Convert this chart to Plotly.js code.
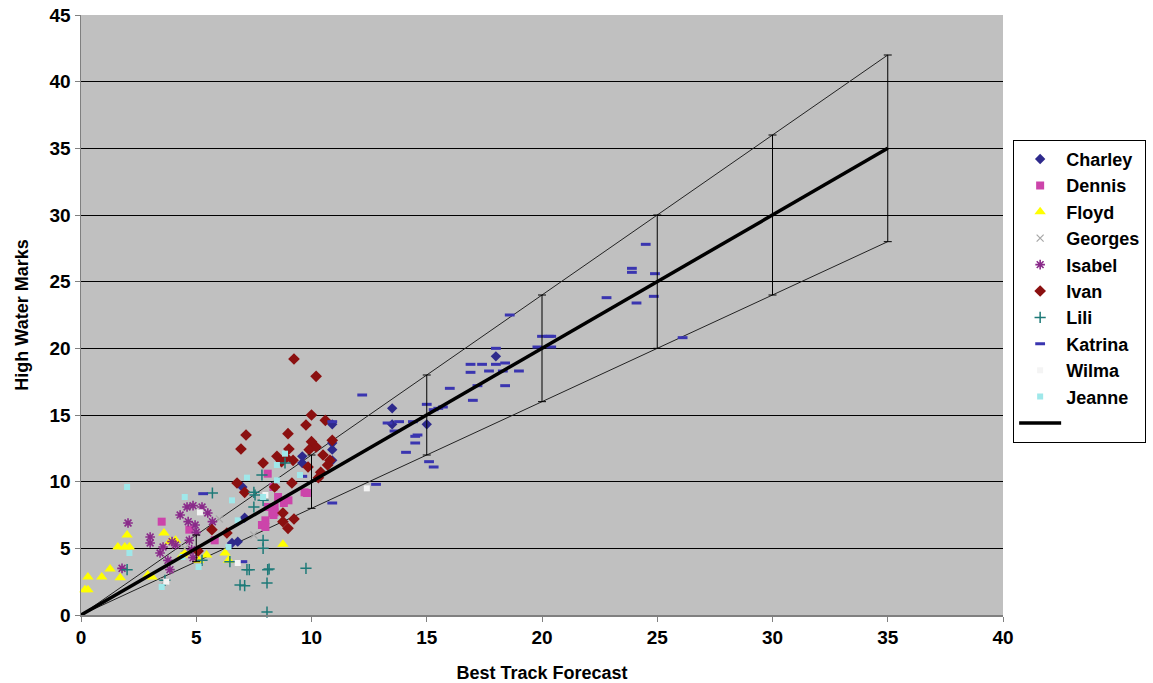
<!DOCTYPE html>
<html>
<head>
<meta charset="utf-8">
<script src="https://cdn.plot.ly/plotly-3.0.1.min.js"></script>
<style>html,body{margin:0;padding:0;background:#fff;}#chart{width:1153px;height:683px;}</style>
</head>
<body>
<div id="chart"></div>
<script>
// ---- data ----
const charleyX = [10.9, 10.9, 10.9, 10.9, 9.6, 9.6, 13.5, 13.5, 15.0, 18.0, 7.0, 6.55, 6.8, 7.1];
const charleyY = [14.3, 12.9, 12.4, 11.6, 11.9, 11.4, 15.5, 14.3, 14.3, 19.4, 9.6, 5.4, 5.5, 7.3];

const dennisX = [3.5, 8.1, 8.35, 9.7, 8.1, 8.4, 8.8, 9.0, 8.3, 8.0, 7.85, 5.8, 4.7, 8.55, 8.4, 8.35, 8.0, 9.8];
const dennisY = [7.0, 10.6, 9.6, 9.2, 8.1, 8.1, 8.4, 8.6, 7.65, 7.1, 6.75, 5.6, 6.4, 8.85, 7.7, 7.5, 6.6, 9.15];

const floydX = [0.3, 0.3, 0.9, 1.26, 1.7, 1.6, 1.9, 2.1, 2.0, 3.6, 3.86, 3.08, 4.4, 5.1, 0.17, 4.1, 4.5, 6.25, 8.76, 6.4, 5.45, 2.9];
const floydY = [1.9, 2.85, 2.85, 3.45, 2.8, 5.1, 5.1, 5.1, 6.0, 6.15, 5.5, 2.85, 4.5, 4.1, 1.9, 5.6, 4.65, 4.65, 5.3, 4.1, 4.5, 3.0];

const georgesX = [2.04, 3.6, 4.5, 7.5, 6.0];
const georgesY = [6.9, 2.5, 5.0, 6.0, 7.2];

const isabelX = [4.6, 4.86, 5.25, 4.3, 4.65, 4.95, 5.7, 3.0, 3.0, 3.95, 3.56, 4.1, 3.43, 3.77, 3.86, 4.8, 4.86, 4.7, 1.78, 2.04, 5.5, 5.0];
const isabelY = [8.1, 8.2, 8.1, 7.5, 7.0, 6.75, 7.0, 5.85, 5.4, 5.5, 5.1, 5.25, 4.65, 4.1, 3.4, 4.9, 4.3, 5.6, 3.5, 6.9, 7.65, 6.2];

const ivanX = [9.24, 10.2, 10.0, 10.6, 9.76, 7.16, 8.98, 6.94, 9.02, 10.0, 10.2, 10.9, 9.9, 10.5, 8.5, 8.9, 9.2, 8.7, 7.9, 9.85, 10.8, 10.4, 10.7, 10.3, 9.15, 6.77, 7.1, 8.4, 8.76, 9.24, 8.76, 8.98, 5.68, 6.33, 5.08];
const ivanY = [19.2, 17.9, 15.0, 14.6, 14.25, 13.5, 13.6, 12.45, 12.45, 13.0, 12.6, 13.1, 12.4, 12.0, 11.9, 11.8, 11.6, 11.5, 11.4, 11.1, 11.6, 10.7, 11.25, 10.3, 9.9, 9.9, 9.2, 9.6, 7.65, 7.2, 7.0, 6.5, 6.4, 6.15, 4.8];

const liliX = [5.7, 7.5, 7.9, 7.5, 7.9, 7.9, 7.3, 8.16, 9.76, 6.9, 7.1, 8.07, 8.07, 7.85, 8.85, 3.64, 6.46, 5.25, 7.2, 8.1, 2.0, 7.55];
const liliY = [9.15, 9.2, 8.6, 8.1, 5.6, 5.0, 3.4, 3.45, 3.5, 2.25, 2.2, 2.4, 0.22, 10.5, 11.4, 2.6, 4.0, 4.1, 3.4, 3.4, 3.4, 9.0];

const katrinaX = [26.1, 24.5, 23.9, 23.9, 24.9, 24.85, 24.1, 22.8, 20.0, 20.4, 20.4, 18.6, 20.3, 19.8, 18.0, 16.9, 17.4, 18.0, 18.4, 16.9, 17.7, 18.3, 19.0, 17.2, 18.4, 16.0, 17.0, 12.2, 15.0, 15.3, 15.5, 15.7, 13.3, 13.8, 13.6, 14.4, 14.6, 14.5, 14.5, 14.1, 15.1, 15.3, 12.8, 10.9, 10.9, 5.3, 7.0, 9.6];
const katrinaY = [20.8, 27.8, 25.7, 26.0, 25.6, 23.9, 23.4, 23.8, 20.9, 20.9, 20.1, 22.5, 20.9, 20.1, 20.0, 18.8, 18.8, 18.8, 18.9, 18.2, 18.3, 18.3, 18.3, 17.2, 17.2, 17.0, 16.1, 16.5, 15.8, 15.4, 15.5, 15.6, 14.4, 14.5, 13.8, 14.5, 13.5, 13.4, 12.9, 12.2, 11.5, 11.1, 9.8, 14.5, 8.4, 9.1, 4.0, 10.4];

const wilmaX = [5.16, 6.8, 12.4, 3.7, 8.0];
const wilmaY = [7.7, 3.9, 9.5, 2.5, 9.0];

const jeanneX = [8.5, 8.85, 7.9, 8.5, 7.2, 6.55, 4.5, 6.8, 6.4, 4.4, 5.1, 3.5, 2.0, 2.1, 9.5];
const jeanneY = [11.25, 12.1, 8.85, 10.1, 10.3, 8.6, 8.85, 7.1, 5.1, 4.35, 3.6, 2.1, 9.6, 4.65, 10.5];

// reference line (perfect agreement) with +/-20% band
const refX = [0, 5, 10, 15, 20, 25, 30, 35];
const refY = [0, 5, 10, 15, 20, 25, 30, 35];
const upperY = [0, 6, 12, 18, 24, 30, 36, 42];
const lowerY = [0, 4, 8, 12, 16, 20, 24, 28];
const barX = [5, 10, 15, 20, 25, 30, 35];
const barY = [5, 10, 15, 20, 25, 30, 35];
const barErr = [1, 2, 3, 4, 5, 6, 7];

const xTicks = [0, 5, 10, 15, 20, 25, 30, 35, 40];
const yTicks = [0, 5, 10, 15, 20, 25, 30, 35, 40, 45];

function sc(name, x, y, marker) {
  return {type: 'scatter', mode: 'markers', name: name, x: x, y: y, marker: marker, cliponaxis: false};
}

const traces = [
  {type: 'scatter', mode: 'lines', x: refX, y: upperY, line: {color: '#222', width: 1}, showlegend: false, hoverinfo: 'skip'},
  {type: 'scatter', mode: 'lines', x: refX, y: lowerY, line: {color: '#222', width: 1}, showlegend: false, hoverinfo: 'skip'},
  sc('Charley', charleyX, charleyY, {symbol: 'diamond', size: 8, color: '#2e2a8c'}),
  sc('Dennis', dennisX, dennisY, {symbol: 'square', size: 8, color: '#cc44aa'}),
  sc('Floyd', floydX, floydY, {symbol: 'triangle-up', size: 10, color: '#ffff00'}),
  sc('Georges', georgesX, georgesY, {symbol: 'x-thin-open', size: 7, color: '#a8a8a8', line: {width: 1.2, color: '#a8a8a8'}}),
  sc('Isabel', isabelX, isabelY, {symbol: 'asterisk-open', size: 8, color: '#8a2a8a', line: {width: 1.6, color: '#8a2a8a'}}),
  sc('Ivan', ivanX, ivanY, {symbol: 'diamond', size: 9, color: '#8b1010'}),
  sc('Lili', liliX, liliY, {symbol: 'cross-thin-open', size: 8, color: '#1e7a78', line: {width: 1.5, color: '#1e7a78'}}),
  sc('Katrina', katrinaX, katrinaY, {symbol: 'line-ew-open', size: 7, color: '#3a35b0', line: {width: 3, color: '#3a35b0'}}),
  sc('Wilma', wilmaX, wilmaY, {symbol: 'square', size: 6, color: '#f4f4f4'}),
  sc('Jeanne', jeanneX, jeanneY, {symbol: 'square', size: 6, color: '#9fe8ea'}),
  {type: 'scatter', mode: 'lines', name: ' ', x: refX, y: refY, line: {color: '#000', width: 3.5}},
  {type: 'scatter', mode: 'markers', x: barX, y: barY, showlegend: false, hoverinfo: 'skip',
   marker: {size: 1, color: 'rgba(0,0,0,0)'},
   error_y: {type: 'data', array: barErr, visible: true, color: '#000', thickness: 1, width: 4}}
];

const layout = {
  width: 1153, height: 683,
  paper_bgcolor: '#ffffff',
  plot_bgcolor: '#c0c0c0',
  margin: {l: 81, r: 150, t: 15, b: 68, autoexpand: false},
  font: {family: 'Arial, "Liberation Sans", sans-serif', size: 17, color: '#000', weight: 'bold'},
  xaxis: {
    range: [0, 40], tickvals: xTicks, ticktext: xTicks.map(String),
    tickfont: {size: 19, weight: 'bold'},
    showgrid: false, zeroline: false, showline: true, linecolor: '#808080', linewidth: 1.5,
    ticks: 'outside', ticklen: 5, tickcolor: '#808080',
    title: {text: 'Best Track Forecast', font: {size: 18, weight: 'bold'}, standoff: 20}
  },
  yaxis: {
    range: [0, 45], tickvals: yTicks, ticktext: yTicks.map(String),
    tickfont: {size: 19, weight: 'bold'},
    showgrid: true, gridcolor: '#000', gridwidth: 1, zeroline: false,
    showline: true, linecolor: '#808080', linewidth: 1.5,
    ticks: 'outside', ticklen: 5, tickcolor: '#808080',
    title: {text: 'High Water Marks', font: {size: 18, weight: 'bold'}, standoff: 16}
  },
  legend: {
    x: 1.011, y: 0.792, xanchor: 'left', yanchor: 'top',
    bgcolor: '#ffffff', bordercolor: '#000', borderwidth: 1,
    font: {size: 18, color: '#000', weight: 'bold'}, tracegroupgap: 0, itemwidth: 42
  },
  showlegend: true
};

Plotly.newPlot('chart', traces, layout, {displayModeBar: false, staticPlot: true});
</script>
</body>
</html>
